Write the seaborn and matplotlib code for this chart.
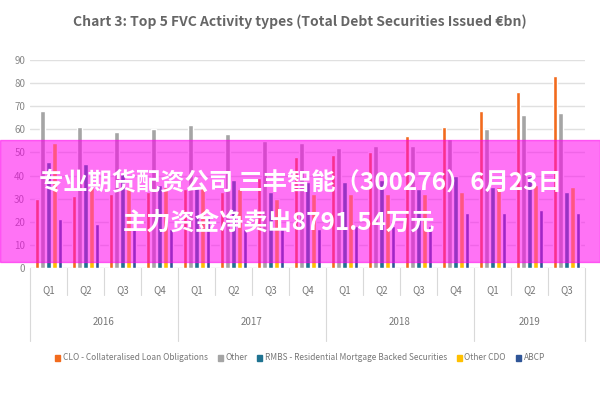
import pandas as pd
import seaborn as sns
import matplotlib.pyplot as plt
from matplotlib.patches import Rectangle

quarters = ["Q1", "Q2", "Q3", "Q4"] * 3 + ["Q1", "Q2", "Q3"]
years = ["2016", "2017", "2018", "2019"]
periods = [f"{y} {q}" for y, n in zip(years, [4, 4, 4, 3]) for q in ["Q1", "Q2", "Q3", "Q4"][:n]]

clo = [30, 31, 32, 33, 34, 33, 39, 48, 49, 50, 57, 61, 68, 76, 83]
other = [68, 61, 59, 60, 62, 58, 55, 54, 52, 53, 53, 56, 60, 66, 67]
rmbs = [46, 45, 41, 36, 35, 38, 33, 37, 37, 38, 34, 40, 35, 40, 33]
other_cdo = [54, 35, 35, 35, 36, 34, 30, 32, 32, 32, 32, 33, 35, 36, 35]
abcp = [21, 19, 17, 17, 22, 17, 17, 17, 18, 18, 18, 24, 24, 25, 24]

series = {
    "CLO - Collateralised Loan Obligations": clo,
    "Other": other,
    "RMBS - Residential Mortgage Backed Securities": rmbs,
    "Other CDO": other_cdo,
    "ABCP": abcp,
}
colors = ["#F26B1D", "#A5A5A5", "#1F7391", "#FFC000", "#2F5597"]

rows = []
for name, vals in series.items():
    for p, v in zip(periods, vals):
        rows.append({"period": p, "series": name, "value": v})
df = pd.DataFrame(rows)

sns.set_style("white")
plt.rcParams["font.family"] = ["Noto Sans CJK SC", "DejaVu Sans"]

fig = plt.figure(figsize=(6, 4), dpi=100)
ax = fig.add_axes([0.05, 0.33, 0.925, 0.52])
sns.barplot(data=df, x="period", y="value", hue="series", palette=colors,
            width=0.78, gap=0.2, saturation=1, ax=ax, legend=False)

ax.set_ylim(0, 90)
ax.set_yticks(range(0, 91, 10))
ax.tick_params(axis="y", labelsize=7, colors="#888888", length=0)
ax.yaxis.grid(True, color="#e0e0e0", lw=1)
ax.set_axisbelow(True)
ax.set_xlim(-0.5, len(periods) - 0.5)
ax.set_xticks(range(len(periods)))
ax.set_xticklabels(quarters, fontsize=7, color="#777777")
ax.tick_params(axis="x", length=0, pad=12)
ax.set_xlabel("")
ax.set_ylabel("")
for s in ax.spines.values():
    s.set_visible(False)

# two level category axis
trans = ax.get_xaxis_transform()
for i in range(len(periods) + 1):
    ax.plot([i - 0.5, i - 0.5], [0, -0.13], transform=trans, color="#d9d9d9", lw=0.8, clip_on=False)
start = 0
for y, n in zip(years, [4, 4, 4, 3]):
    ax.plot([start - 0.5, start - 0.5], [-0.13, -0.35], transform=trans, color="#d9d9d9", lw=0.8, clip_on=False)
    ax.text(start + n / 2 - 0.5, -0.26, y, transform=trans, ha="center", va="center",
            fontsize=7, color="#777777")
    start += n
ax.plot([start - 0.5, start - 0.5], [-0.13, -0.35], transform=trans, color="#d9d9d9", lw=0.8, clip_on=False)

handles = [Rectangle((0, 0), 1, 1, color=c) for c in colors]
fig.legend(handles, list(series.keys()), loc="center", bbox_to_anchor=(0.5, 0.105), ncol=5,
           frameon=False, fontsize=6, handlelength=0.6, handletextpad=0.3, columnspacing=1.2,
           labelcolor="#777777")

fig.text(0.5, 0.945, "Chart 3: Top 5 FVC Activity types (Total Debt Securities Issued €bn)",
         ha="center", va="center", fontsize=10, fontweight="bold", color="#666666")

# overlay banner
fig.patches.append(Rectangle((0, 0.345), 1, 0.305, transform=fig.transFigure,
                             color="#FF00EE", alpha=0.55, zorder=10))
fig.text(0.5, 0.543, "专业期货配资公司 三丰智能（300276）6月23日", ha="center", va="center",
         fontsize=17.5, fontweight="bold", color="white", zorder=11)
fig.text(0.205, 0.445, "主力资金净卖出8791.54万元", ha="left", va="center",
         fontsize=17.5, fontweight="bold", color="white", zorder=11)

fig.savefig("out.png", dpi=100)
